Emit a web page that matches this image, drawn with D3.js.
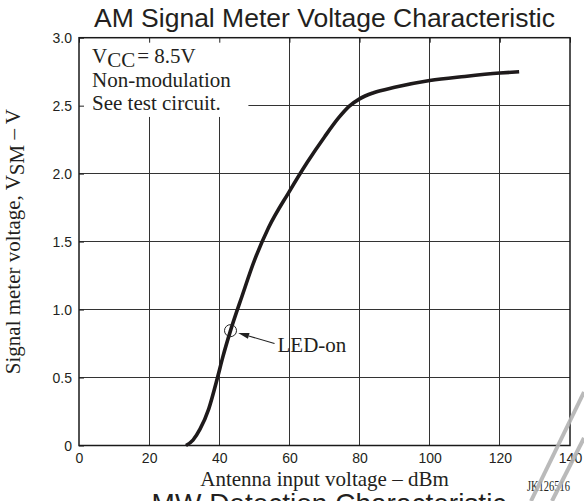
<!DOCTYPE html>
<html>
<head>
<meta charset="utf-8">
<script src="https://cdn.jsdelivr.net/npm/d3@7"></script>
<style>
  html, body { margin: 0; padding: 0; background: #fff; }
  svg { display: block; }
</style>
</head>
<body>
<svg id="chart" width="584" height="501"></svg>
<script>
// Antenna input level (dBm) vs. signal meter output voltage (V)
const inputLevel = [30.5, 32.5, 34.5, 37, 39.5, 41, 43.2, 46.5, 50, 54, 60, 65, 70, 74, 77, 80, 84, 90, 100, 110, 120, 125.5];
const meterVoltage = [0, 0.04, 0.12, 0.27, 0.5, 0.65, 0.845, 1.1, 1.36, 1.6, 1.87, 2.08, 2.27, 2.41, 2.495, 2.55, 2.595, 2.635, 2.685, 2.715, 2.74, 2.75];

const xTicks = [0, 20, 40, 60, 80, 100, 120, 140];
const yTicks = [0, 0.5, 1.0, 1.5, 2.0, 2.5, 3.0];
const yTickLabels = ["0", "0.5", "1.0", "1.5", "2.0", "2.5", "3.0"];

// LED turn-on point on the curve
const ledOn = { x: 43.2, y: 0.845, label: "LED-on" };

const conditionLines = ["Non-modulation", "See test circuit."];

const SERIF = "'Liberation Serif', 'Times New Roman', Times, serif";
const SANS = "'Liberation Sans', Arial, Helvetica, sans-serif";
const INK = "#231f20";

const svg = d3.select("#chart");
const W = 584, H = 501;
const plot = { left: 79, right: 570, top: 37.7, bottom: 445.5 };

const x = d3.scaleLinear().domain([0, 140]).range([plot.left, plot.right]);
const y = d3.scaleLinear().domain([0, 3]).range([plot.bottom, plot.top]);

// grid
const grid = svg.append("g").attr("stroke", "#333").attr("stroke-width", 1).attr("shape-rendering", "crispEdges");
grid.selectAll("line.vx").data(xTicks.slice(1, -1)).join("line")
  .attr("x1", d => x(d)).attr("x2", d => x(d))
  .attr("y1", plot.top).attr("y2", plot.bottom);
grid.selectAll("line.hy").data(yTicks.slice(1, -1)).join("line")
  .attr("x1", plot.left).attr("x2", plot.right)
  .attr("y1", d => y(d)).attr("y2", d => y(d));

// blank panel behind the condition notes
svg.append("rect")
  .attr("x", x(0)).attr("y", y(3))
  .attr("width", x(48.3) - x(0)).attr("height", y(2.417) - y(3))
  .attr("fill", "#fff");

// inner ticks on top and left edges
const topAxis = svg.append("g").attr("transform", `translate(0,${plot.top})`)
  .call(d3.axisTop(x).tickValues(xTicks).tickSizeInner(-5).tickSizeOuter(0).tickFormat(""));
topAxis.select(".domain").remove();
topAxis.selectAll("line").attr("stroke", "#222");

const leftAxis = svg.append("g").attr("transform", `translate(${plot.left},0)`)
  .call(d3.axisLeft(y).tickValues(yTicks).tickSizeInner(-5).tickSizeOuter(0).tickPadding(7)
    .tickFormat((d, i) => yTickLabels[i]));
leftAxis.select(".domain").remove();
leftAxis.selectAll("line").attr("stroke", "#222");
leftAxis.selectAll("text")
  .attr("font-family", SANS).attr("font-size", 14).attr("fill", INK).attr("dy", "0.36em");

const bottomAxis = svg.append("g").attr("transform", `translate(0,${plot.bottom})`)
  .call(d3.axisBottom(x).tickValues(xTicks).tickSize(0).tickPadding(7.5));
bottomAxis.select(".domain").remove();
bottomAxis.selectAll("text")
  .attr("font-family", SANS).attr("font-size", 14).attr("fill", INK);

// frame
svg.append("rect")
  .attr("x", plot.left).attr("y", plot.top)
  .attr("width", plot.right - plot.left).attr("height", plot.bottom - plot.top)
  .attr("fill", "none").attr("stroke", "#1a1a1a").attr("stroke-width", 1.5);

// characteristic curve
const pts = inputLevel.map((v, i) => [v, meterVoltage[i]]);
const line = d3.line().x(d => x(d[0])).y(d => y(d[1])).curve(d3.curveMonotoneX);
svg.append("path")
  .attr("d", line(pts))
  .attr("fill", "none").attr("stroke", "#1e1a1b").attr("stroke-width", 3.6)
  .attr("stroke-linecap", "butt").attr("stroke-linejoin", "round");

// LED-on marker, arrow and label
const cx = x(ledOn.x), cy = y(ledOn.y), r = 6;
svg.append("circle").attr("cx", cx).attr("cy", cy).attr("r", r)
  .attr("fill", "none").attr("stroke", "#222").attr("stroke-width", 1);

const labelX = x(56.6), labelBase = y(0.688);
const tail = [labelX - 3, labelBase - 8.5];
const ang = Math.atan2(tail[1] - cy, tail[0] - cx);
const tip = [cx + (r + 2) * Math.cos(ang), cy + (r + 2) * Math.sin(ang)];
const ux = Math.cos(ang), uy = Math.sin(ang);
const headLen = 11, headHalf = 3;
const base = [tip[0] + ux * headLen, tip[1] + uy * headLen];
svg.append("line")
  .attr("x1", base[0]).attr("y1", base[1]).attr("x2", tail[0]).attr("y2", tail[1])
  .attr("stroke", "#222").attr("stroke-width", 1.1);
svg.append("path")
  .attr("d", `M${tip[0]},${tip[1]}L${base[0] - uy * headHalf},${base[1] + ux * headHalf}L${base[0] + uy * headHalf},${base[1] - ux * headHalf}Z`)
  .attr("fill", "#222");
svg.append("text").attr("x", labelX).attr("y", labelBase)
  .attr("font-family", SERIF).attr("font-size", 21).attr("fill", INK)
  .text(ledOn.label);

// condition notes
const notes = svg.append("g").attr("font-family", SERIF).attr("font-size", 21).attr("fill", INK);
const vcc = notes.append("text").attr("x", 92).attr("y", 63.3);
vcc.append("tspan").text("V");
vcc.append("tspan").attr("dy", 4).text("CC");
vcc.append("tspan").attr("dy", -4).attr("dx", 2).text("= 8.5V");
notes.selectAll("text.cond").data(conditionLines).join("text")
  .attr("class", "cond")
  .attr("x", 92).attr("y", (d, i) => 86.7 + i * 23.3)
  .text(d => d);

// titles
const cxPlot = (plot.left + plot.right) / 2;
svg.append("text").attr("x", cxPlot).attr("y", 27)
  .attr("text-anchor", "middle").attr("font-family", SANS).attr("font-size", 26.5).attr("fill", INK)
  .text("AM Signal Meter Voltage Characteristic");

svg.append("text").attr("x", cxPlot).attr("y", 486)
  .attr("text-anchor", "middle").attr("font-family", SERIF).attr("font-size", 21).attr("fill", INK)
  .text("Antenna input voltage – dBm");

const yTitle = svg.append("text")
  .attr("transform", `translate(20,${(plot.top + plot.bottom) / 2}) rotate(-90)`)
  .attr("text-anchor", "middle").attr("font-family", SERIF).attr("font-size", 21).attr("fill", INK);
yTitle.append("tspan").text("Signal meter voltage, V");
yTitle.append("tspan").attr("dy", 4).text("SM");
yTitle.append("tspan").attr("dy", -4).text(" – V");

svg.append("text").attr("x", 527).attr("y", 491)
  .attr("font-family", SERIF).attr("font-size", 15).attr("fill", INK)
  .attr("textLength", 43).attr("lengthAdjust", "spacingAndGlyphs")
  .text("JK126516");

// heading of the following figure, cut by the page edge
svg.append("text").attr("x", 329).attr("y", 513)
  .attr("text-anchor", "middle").attr("font-family", SANS).attr("font-size", 28).attr("fill", INK)
  .text("MW Detection Characteristic");

// page crease strokes
const crease = svg.append("g").attr("stroke", "#b3b3b3").attr("stroke-width", 4).attr("opacity", 0.9);
crease.append("line").attr("x1", 531).attr("y1", H).attr("x2", W).attr("y2", 392);
crease.append("line").attr("x1", 552).attr("y1", H).attr("x2", W).attr("y2", 438);
</script>
</body>
</html>
